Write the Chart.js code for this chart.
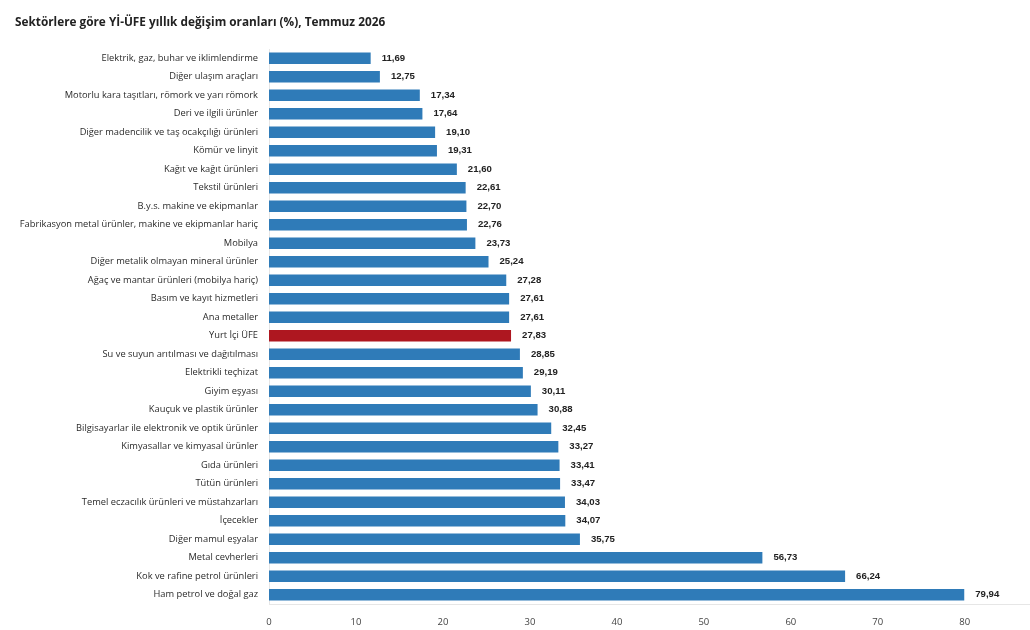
<!DOCTYPE html>
<html><head><meta charset="utf-8">
<script src="https://cdn.jsdelivr.net/npm/chart.js@4.4.1/dist/chart.umd.min.js"></script>
<style>
html,body{margin:0;padding:0;background:#fff;}
#wrap{position:relative;width:1030px;height:630px;}
#title{position:absolute;left:15px;top:13px;font:bold 11.8px "Open Sans","Noto Sans",sans-serif;color:#222;}
#c{position:absolute;left:0;top:0;}
</style></head><body>
<div id="wrap"><canvas id="c" width="1030" height="630"></canvas>
<div id="title">Sektörlere göre Yİ-ÜFE yıllık değişim oranları (%), Temmuz 2026</div></div>
<script>
const categories = [
"Elektrik, gaz, buhar ve iklimlendirme","Diğer ulaşım araçları","Motorlu kara taşıtları, römork ve yarı römork","Deri ve ilgili ürünler","Diğer madencilik ve taş ocakçılığı ürünleri","Kömür ve linyit","Kağıt ve kağıt ürünleri","Tekstil ürünleri","B.y.s. makine ve ekipmanlar","Fabrikasyon metal ürünler, makine ve ekipmanlar hariç","Mobilya","Diğer metalik olmayan mineral ürünler","Ağaç ve mantar ürünleri (mobilya hariç)","Basım ve kayıt hizmetleri","Ana metaller","Yurt İçi ÜFE","Su ve suyun arıtılması ve dağıtılması","Elektrikli teçhizat","Giyim eşyası","Kauçuk ve plastik ürünler","Bilgisayarlar ile elektronik ve optik ürünler","Kimyasallar ve kimyasal ürünler","Gıda ürünleri","Tütün ürünleri","Temel eczacılık ürünleri ve müstahzarları","İçecekler","Diğer mamul eşyalar","Metal cevherleri","Kok ve rafine petrol ürünleri","Ham petrol ve doğal gaz"];
const values = [11.69,12.75,17.34,17.64,19.10,19.31,21.60,22.61,22.70,22.76,23.73,25.24,27.28,27.61,27.61,27.83,28.85,29.19,30.11,30.88,32.45,33.27,33.41,33.47,34.03,34.07,35.75,56.73,66.24,79.94];
const highlight = "Yurt İçi ÜFE";
const tickValues = [0,10,20,30,40,50,60,70,80];

const BLUE = '#2f7bb8', RED = '#ae1720';
const colors = categories.map(c => c === highlight ? RED : BLUE);

const valueLabels = {
  id: 'valueLabels',
  afterDatasetsDraw(chart) {
    const ctx = chart.ctx;
    const meta = chart.getDatasetMeta(0);
    ctx.save();
    ctx.font = 'bold 9.6px "Liberation Sans", Arial, sans-serif';
    ctx.fillStyle = '#222';
    ctx.textBaseline = 'middle';
    ctx.textAlign = 'left';
    meta.data.forEach((bar, i) => {
      ctx.fillText(values[i].toFixed(2).replace('.', ','), bar.x + 11, bar.y);
    });
    ctx.restore();
  }
};

new Chart(document.getElementById('c'), {
  type: 'bar',
  data: {
    labels: categories,
    datasets: [{ data: values, backgroundColor: colors, borderWidth: 0, barPercentage: 0.62, categoryPercentage: 1.0 }]
  },
  options: {
    indexAxis: 'y',
    responsive: false,
    animation: false,
    devicePixelRatio: 1,
    layout: { padding: { top: 49, right: 0, left: 0, bottom: 0 } },
    plugins: { legend: { display: false }, tooltip: { enabled: false } },
    scales: {
      x: {
        min: 0, max: 87.5,
        afterBuildTicks(axis) { axis.ticks = tickValues.map(v => ({ value: v })); },
        afterFit(axis) { axis.height = 26; },
        grid: { display: false, drawTicks: false },
        border: { display: true, color: '#e6e6e6' },
        ticks: { color: '#444', font: { family: '"Open Sans","Noto Sans",sans-serif', size: 9.5 }, padding: 13 }
      },
      y: {
        afterFit(axis) { axis.width = 269; },
        grid: { display: false, drawTicks: false },
        border: { display: true, color: '#e6e6e6' },
        ticks: { color: '#2a2a2a', font: { family: '"Open Sans","Noto Sans",sans-serif', size: 9.3 }, padding: 11, autoSkip: false }
      }
    }
  },
  plugins: [valueLabels]
});
</script>
</body></html>
